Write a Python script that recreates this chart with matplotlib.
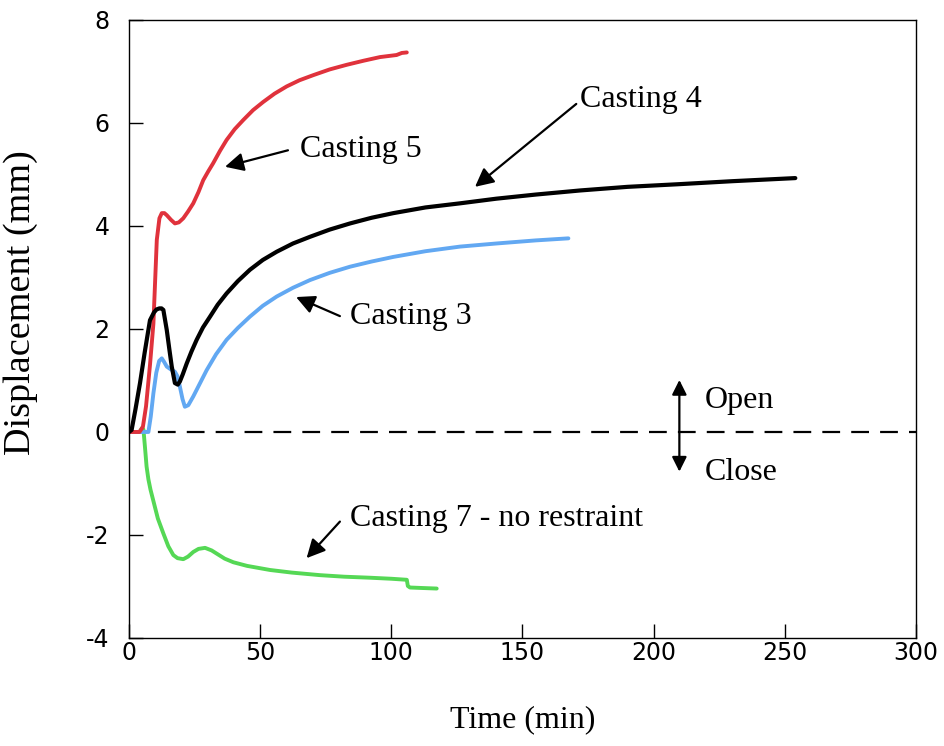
import numpy as np
import matplotlib.pyplot as plt

plt.rcParams['axes.unicode_minus'] = False

# Casting 5 (red)
t_c5 = [0, 4, 5.3, 6.5, 8, 9.3, 10.6, 11.6, 12.5, 13.5, 14.4, 16, 17.5, 19, 20.7, 22.5, 24.5, 26.5,
        28.3, 30.2, 32.1, 34.7, 37.2, 40.3, 43.6, 47.3, 51.2, 55.5, 60.1, 65, 70.3, 76.5, 83, 89.5,
        95.7, 102, 104, 105.9]
y_c5 = [0, 0, 0.1, 0.5, 1.3, 2.1, 3.73, 4.15, 4.25, 4.25, 4.21, 4.12, 4.05, 4.07, 4.15, 4.28, 4.44,
        4.66, 4.89, 5.06, 5.22, 5.46, 5.67, 5.88, 6.06, 6.25, 6.41, 6.57, 6.71, 6.83, 6.93, 7.04, 7.13,
        7.21, 7.28, 7.32, 7.36, 7.37]

# Casting 4 (black)
t_c4 = [0, 1, 2.5, 4.2, 6, 8, 9.5, 10.5, 11.6, 12.4, 13.1, 14.4, 15.4, 16.3, 17.5, 18.6, 19.4, 20.5,
        22, 23.8, 25.8, 28.2, 30.9, 33.8, 37.2, 41.5, 46.1, 51, 56.3, 62.5, 69, 76.5, 84.3, 92.5, 100.8,
        113, 126.2, 140, 155, 172, 190, 209, 230, 254]
y_c4 = [0, 0.04, 0.45, 0.95, 1.55, 2.17, 2.32, 2.38, 2.40, 2.40, 2.37, 1.98, 1.6, 1.27, 0.95, 0.92,
        0.98, 1.12, 1.33, 1.56, 1.79, 2.03, 2.24, 2.47, 2.69, 2.93, 3.15, 3.34, 3.50, 3.66, 3.79, 3.93,
        4.05, 4.16, 4.25, 4.36, 4.44, 4.53, 4.61, 4.69, 4.76, 4.81, 4.87, 4.93]

# Casting 3 (blue)
t_c3 = [0, 7.4, 8.3, 9.3, 10.4, 11.5, 12.5, 13.4, 14.4, 15.8, 17.5, 18.5, 19.4, 20.4, 21.3, 22.6,
        24.5, 26.8, 29.6, 33.2, 37.2, 41.5, 46.1, 51, 56.3, 62.5, 69, 76.5, 84.3, 92.5, 100.8, 113,
        126.2, 140, 155, 167.5]
y_c3 = [0, 0, 0.3, 0.75, 1.15, 1.38, 1.43, 1.36, 1.27, 1.22, 1.17, 1.08, 0.88, 0.64, 0.49, 0.52,
        0.69, 0.92, 1.20, 1.51, 1.79, 2.02, 2.24, 2.45, 2.63, 2.80, 2.95, 3.09, 3.21, 3.31, 3.40, 3.51,
        3.60, 3.66, 3.72, 3.76]

# Casting 7 - no restraint (green)
t_c7 = [0, 4, 5, 5.5, 6.1, 6.7, 7.4, 8.2, 9.3, 11, 13.1, 15, 16.9, 18.5, 20.7, 22.5, 24.5, 26.5, 29,
        31.5, 34, 36.5, 39.8, 45, 53.8, 62, 72.8, 82, 91.9, 100, 105.9, 106.3, 107.1, 112, 117.3]
y_c7 = [0, 0, 0.08, 0.05, -0.3, -0.67, -0.92, -1.12, -1.34, -1.68, -1.97, -2.22, -2.39, -2.45, -2.47,
        -2.42, -2.33, -2.27, -2.25, -2.3, -2.38, -2.46, -2.53, -2.6, -2.68, -2.73, -2.78, -2.81, -2.83,
        -2.85, -2.87, -2.99, -3.02, -3.03, -3.04]

x_ticks = [0, 50, 100, 150, 200, 250, 300]
y_ticks = [-4, -2, 0, 2, 4, 6, 8]

serif = ['Liberation Serif', 'DejaVu Serif']

fig = plt.figure(figsize=(9.45, 7.46), dpi=100)
ax = fig.add_axes([0.1365, 0.1448, 0.8328, 0.8284])

ax.plot([0, 300], [0, 0], color='black', lw=1.6, dashes=(8, 5))
ax.plot(t_c7, y_c7, color='#55d855', lw=2.8, solid_joinstyle='round', solid_capstyle='round')
ax.plot(t_c3, y_c3, color='#62a8f2', lw=2.8, solid_joinstyle='round', solid_capstyle='round')
ax.plot(t_c5, y_c5, color='#e0323c', lw=2.8, solid_joinstyle='round', solid_capstyle='round')
ax.plot(t_c4, y_c4, color='black', lw=3.0, solid_joinstyle='round', solid_capstyle='round')

ax.set_xlim(0, 300)
ax.set_ylim(-4, 8)
ax.set_xticks(x_ticks)
ax.set_yticks(y_ticks)
ax.tick_params(direction='in', length=10, width=1, labelsize=17)
ax.tick_params(axis='y', pad=14)
ax.tick_params(axis='x', pad=2)
for s in ax.spines.values():
    s.set_linewidth(1)

ax.set_xlabel('Time (min)', family=serif, fontsize=23)
ax.xaxis.set_label_coords(0.5, -0.108)
ax.set_ylabel('Displacement (mm)', family=serif, fontsize=27.5)
ax.yaxis.set_label_coords(-0.116, 0.542)

arrow = dict(arrowstyle='-|>', color='black', lw=1.6, mutation_scale=28, shrinkA=0, shrinkB=0)

# labels with pointer arrows
ax.annotate('', xy=(36.6, 5.15), xytext=(60.6, 5.47), arrowprops=arrow)
ax.text(65.2, 5.48, 'Casting 5', family=serif, fontsize=23, va='center')

ax.annotate('', xy=(131.9, 4.76), xytext=(170.5, 6.37), arrowprops=arrow)
ax.text(171.9, 6.45, 'Casting 4', family=serif, fontsize=23, va='center')

ax.annotate('', xy=(63.7, 2.62), xytext=(80.4, 2.25), arrowprops=arrow)
ax.text(84.3, 2.24, 'Casting 3', family=serif, fontsize=23, va='center')

ax.annotate('', xy=(67.7, -2.45), xytext=(80.4, -1.74), arrowprops=arrow)
ax.text(84.3, -1.68, 'Casting 7 - no restraint', family=serif, fontsize=23, va='center')

# opening / closing direction
ax.annotate('', xy=(209.8, 1.01), xytext=(209.8, -0.77),
            arrowprops=dict(arrowstyle='<|-|>', color='black', lw=1.6, mutation_scale=22,
                            shrinkA=0, shrinkB=0))
ax.text(219.6, 0.62, 'Open', family=serif, fontsize=23, va='center')
ax.text(219.6, -0.78, 'Close', family=serif, fontsize=23, va='center')

fig.savefig('out.png', dpi=100)
